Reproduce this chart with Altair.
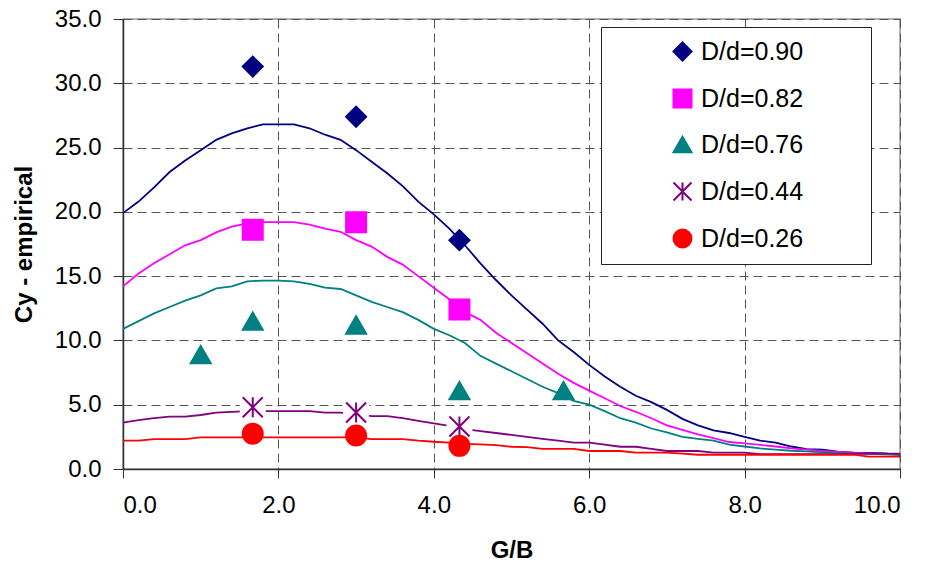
import altair as alt
import pandas as pd

# ---- data ----
gb = [0.0, 0.2, 0.4, 0.6, 0.8, 1.0, 1.2, 1.4, 1.6, 1.8,
      2.0, 2.2, 2.4, 2.6, 2.8, 3.0, 3.2, 3.4, 3.6, 3.8,
      4.0, 4.2, 4.4, 4.6, 4.8, 5.0, 5.2, 5.4, 5.6, 5.8,
      6.0, 6.2, 6.4, 6.6, 6.8, 7.0, 7.2, 7.4, 7.6, 7.8,
      8.0, 8.2, 8.4, 8.6, 8.8, 9.0, 9.2, 9.4, 9.6, 9.8,
      10.0]

cy_090 = [19.9, 20.8, 21.9, 23.1, 24.0, 24.8, 25.6, 26.1, 26.5, 26.8,
          26.8, 26.8, 26.5, 26.0, 25.6, 24.8, 23.9, 23.0, 22.0, 20.8,
          19.8, 18.7, 17.4, 16.0, 14.7, 13.5, 12.4, 11.3, 10.0, 9.1,
          8.1, 7.2, 6.4, 5.7, 5.2, 4.6, 3.9, 3.4, 3.0, 2.8,
          2.5, 2.2, 2.05, 1.75, 1.55, 1.5, 1.35, 1.27, 1.25, 1.22,
          1.1]
cy_082 = [14.2, 15.2, 16.0, 16.7, 17.4, 17.8, 18.4, 18.85, 19.1, 19.2,
          19.2, 19.2, 19.0, 18.7, 18.45, 17.8, 17.3, 16.5, 15.9, 15.0,
          14.1, 13.2, 12.2, 11.6, 10.6, 9.8, 9.0, 8.2, 7.4, 6.7,
          6.1, 5.5, 4.9, 4.45, 3.95, 3.4, 3.05, 2.7, 2.4, 2.1,
          2.0, 1.87, 1.75, 1.6, 1.5, 1.4, 1.33, 1.27, 1.22, 1.18,
          1.15]
cy_076 = [10.9, 11.5, 12.1, 12.6, 13.1, 13.5, 14.05, 14.2, 14.6, 14.65,
          14.65, 14.6, 14.4, 14.1, 14.0, 13.5, 13.0, 12.6, 12.2, 11.6,
          10.9, 10.4, 9.8, 8.8, 8.2, 7.6, 7.0, 6.4, 5.9, 5.3,
          5.0, 4.5, 3.95, 3.6, 3.15, 2.85, 2.5, 2.35, 2.2, 1.9,
          1.75, 1.6, 1.5, 1.42, 1.37, 1.3, 1.25, 1.2, 1.17, 1.13,
          1.1]
cy_044 = [3.6, 3.8, 3.95, 4.07, 4.07, 4.2, 4.38, 4.45, 4.5, 4.5,
          4.5, 4.5, 4.5, 4.38, 4.38, 4.25, 4.12, 4.12, 3.95, 3.75,
          3.55, 3.35, 3.1, 2.95, 2.8, 2.65, 2.5, 2.35, 2.2, 2.05,
          2.05, 1.9, 1.73, 1.73, 1.57, 1.4, 1.4, 1.4, 1.27, 1.27,
          1.27, 1.15, 1.15, 1.15, 1.15, 1.15, 1.15, 1.2, 1.2, 1.2,
          1.2]
cy_026 = [2.2, 2.2, 2.33, 2.33, 2.33, 2.46, 2.46, 2.46, 2.46, 2.46,
          2.46, 2.46, 2.46, 2.46, 2.46, 2.46, 2.33, 2.33, 2.33, 2.2,
          2.12, 2.05, 1.95, 1.92, 1.85, 1.73, 1.7, 1.56, 1.56, 1.56,
          1.4, 1.4, 1.4, 1.27, 1.27, 1.27, 1.2, 1.11, 1.11, 1.11,
          1.11, 1.11, 1.11, 1.11, 1.11, 1.11, 1.11, 1.11, 0.96, 0.96,
          0.96]

pts_090_x = [1.67, 3.0, 4.33]
pts_090_y = [31.3, 27.4, 17.8]
pts_082_x = [1.67, 3.0, 4.33]
pts_082_y = [18.6, 19.2, 12.4]
pts_076_x = [1.0, 1.67, 3.0, 4.33, 5.67]
pts_076_y = [8.9, 11.5, 11.2, 6.1, 6.1]
pts_044_x = [1.67, 3.0, 4.33]
pts_044_y = [4.8, 4.4, 3.3]
pts_026_x = [1.67, 3.0, 4.33]
pts_026_y = [2.75, 2.6, 1.8]

series_names = ["D/d=0.90", "D/d=0.82", "D/d=0.76", "D/d=0.44", "D/d=0.26"]
series_colors = ["#000080", "#FF00FF", "#008080", "#800080", "#FF0000"]
series_shapes = ["diamond", "square", "triangle-up",
                 "M-1,-1L1,1M-1,1L1,-1M0,-1L0,1", "circle"]

curves = [cy_090, cy_082, cy_076, cy_044, cy_026]
pts_x = [pts_090_x, pts_082_x, pts_076_x, pts_044_x, pts_026_x]
pts_y = [pts_090_y, pts_082_y, pts_076_y, pts_044_y, pts_026_y]

line_rows = []
for name, ys in zip(series_names, curves):
    for x, y in zip(gb, ys):
        line_rows.append({"series": name, "gb": x, "cy": y})
line_df = pd.DataFrame(line_rows)

pt_rows = []
for name, xs, ys in zip(series_names, pts_x, pts_y):
    for x, y in zip(xs, ys):
        pt_rows.append({"series": name, "gb": x, "cy": y})
pt_df = pd.DataFrame(pt_rows)
star_df = pt_df[pt_df["series"] == "D/d=0.44"]

FONT = "Liberation Sans"

x_enc = alt.X("gb:Q", scale=alt.Scale(domain=[0, 10], nice=False),
              axis=alt.Axis(values=[0, 2, 4, 6, 8, 10], format=".1f", title="G/B",
                            tickSize=9, labelPadding=15, titlePadding=21))
y_enc = alt.Y("cy:Q", scale=alt.Scale(domain=[0, 35], nice=False),
              axis=alt.Axis(values=[0, 5, 10, 15, 20, 25, 30, 35], format=".1f",
                            title="Cy - empirical", tickSize=10, labelPadding=12,
                            titlePadding=18))

color_scale = alt.Scale(domain=series_names, range=series_colors)
# same mapping, listed in reverse so the (legend-less) line scale stays separate
line_scale = alt.Scale(domain=series_names[::-1], range=series_colors[::-1])
shape_scale = alt.Scale(domain=series_names, range=series_shapes)

nb = "\u00a0"
legend = alt.Legend(
    orient="none", legendX=478, legendY=8,
    title=nb, titleOrient="left", titlePadding=57, titleFontSize=24,
    labelFont=FONT, labelFontSize=25, labelColor="black", labelOffset=6,
    labelExpr="datum.label + '" + nb * 8 + "\u200b'", labelLimit=400,
    padding=12, rowPadding=20, symbolSize=324, symbolStrokeWidth=2,
    strokeColor="#222", fillColor="white", cornerRadius=0,
)

lines = alt.Chart(line_df).mark_line(strokeWidth=1.8).encode(
    x=x_enc, y=y_enc,
    color=alt.Color("series:N", scale=line_scale, legend=None),
)

backs = alt.Chart(star_df).mark_point(shape="square", filled=True, fill="white",
                                      size=676, opacity=1, strokeWidth=0).encode(
    x=x_enc, y=y_enc,
)

points = alt.Chart(pt_df).mark_point(filled=True, size=400, strokeWidth=2, opacity=1).encode(
    x=x_enc, y=y_enc,
    fill=alt.Fill("series:N", scale=color_scale, legend=legend),
    stroke=alt.Stroke("series:N", scale=color_scale, legend=legend),
    shape=alt.Shape("series:N", scale=shape_scale, legend=legend),
)

chart = alt.layer(lines, backs, points).properties(
    width=777, height=450,
    background="white",
    autosize=alt.AutoSizeParams(type="none"),
    padding={"left": 123, "top": 19, "right": 32, "bottom": 100},
).configure_view(
    stroke="#999", strokeWidth=1.5,
).configure_axis(
    labelFont=FONT, labelFontSize=24, labelColor="black",
    titleFont=FONT, titleFontSize=24, titleFontWeight="bold", titleColor="black",
    domainColor="#333", domainWidth=1.5, tickColor="#333", tickWidth=1,
    gridColor="#555", gridDash=[9, 5], gridWidth=1,
)

chart.save("out.html", embed_options={"renderer": "svg", "actions": False})
